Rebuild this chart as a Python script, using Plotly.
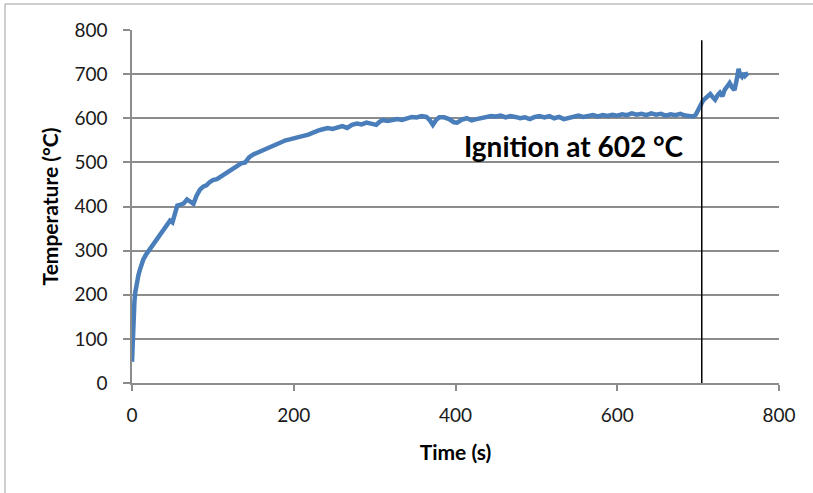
import plotly.graph_objects as go

time_s = [0, 1, 2, 3, 4, 5, 6, 8, 10, 12, 14, 17, 20, 24, 28, 32, 36, 40, 44, 47, 50, 53, 56, 60,
          64, 68, 72, 76, 80, 84, 88, 92, 96, 100, 105, 110, 115, 120, 125, 130, 135, 140, 145,
          150, 155, 160, 165, 170, 175, 180, 185, 190, 195, 200, 206, 212, 218, 224, 230, 236,
          242, 248, 254, 260, 266, 272, 278, 284, 290, 296, 302, 306, 310, 316, 322, 328, 334,
          340, 346, 352, 358, 364, 368, 372, 376, 380, 386, 392, 398, 402, 408, 414, 420, 426,
          432, 438, 444, 450, 456, 462, 468, 474, 480, 486, 492, 498, 504, 510, 516, 522, 528,
          534, 540, 546, 552, 558, 564, 570, 576, 582, 588, 594, 600, 606, 612, 618, 624, 630,
          636, 642, 648, 654, 660, 666, 672, 678, 684, 690, 694, 697, 700, 703, 706, 709, 712,
          715, 718, 721, 724, 727, 730, 733, 736, 739, 742, 745, 748, 750, 752, 754, 756, 758,
          760, 762]
temperature_c = [48, 110, 160, 185, 205, 220, 232, 245, 258, 270, 280, 290, 298, 308, 318, 328,
                 342, 350, 362, 368, 364, 385, 402, 404, 407, 416, 410, 406, 425, 438, 445, 448,
                 455, 460, 462, 468, 472, 478, 484, 492, 498, 500, 512, 518, 522, 527, 532, 536,
                 538, 544, 546, 550, 552, 555, 558, 560, 563, 568, 572, 575, 578, 576, 580, 582,
                 578, 585, 588, 586, 590, 588, 585, 592, 596, 594, 597, 598, 596, 600, 603, 602,
                 605, 603, 596, 585, 596, 602, 602, 598, 591, 590, 597, 600, 595, 598, 600, 601,
                 605, 604, 606, 602, 605, 603, 600, 602, 598, 603, 605, 602, 605, 600, 603, 598,
                 601, 604, 606, 603, 605, 607, 604, 607, 605, 608, 606, 609, 607, 611, 608, 610,
                 607, 611, 608, 610, 606, 609, 607, 610, 606, 605, 604, 608, 620, 632, 640, 645,
                 650, 655, 648, 642, 652, 658, 650, 665, 672, 680, 670, 664, 690, 712, 698, 694,
                 702, 696, 700, 702]

x_ticks = [0, 200, 400, 600, 800]
y_ticks = [0, 100, 200, 300, 400, 500, 600, 700, 800]
ignition_time = 704.5
ignition_line_range = [-16, 777]
annotation_text = "Ignition at 602 °C"
annotation_pos = (547, 537)

FONT = "Lato"
GRID = "#8c8c8c"

fig = go.Figure()
fig.add_trace(go.Scatter(
    x=time_s, y=temperature_c, mode="lines",
    line=dict(color="#4a7ebb", width=4.5),
    showlegend=False, hoverinfo="skip",
))
fig.add_trace(go.Scatter(
    x=[ignition_time, ignition_time], y=ignition_line_range, mode="lines",
    line=dict(color="black", width=1.5), showlegend=False, hoverinfo="skip",
    cliponaxis=False,
))

fig.add_annotation(
    x=annotation_pos[0], y=annotation_pos[1], text="<b>" + annotation_text + "</b>",
    showarrow=False, font=dict(family=FONT, size=28, color="black"),
    xanchor="center", yanchor="middle",
)

# outer frame (left and top edges)
fig.add_shape(type="line", xref="paper", yref="paper", x0=-0.1963, x1=-0.1963,
              y0=1.0737, y1=-0.32, line=dict(color="#bdbdbd", width=1.5))
fig.add_shape(type="line", xref="paper", yref="paper", x0=-0.1963, x1=1.06,
              y0=1.0737, y1=1.0737, line=dict(color="#bdbdbd", width=1.5))

fig.update_xaxes(
    range=[0, 800], tickvals=x_ticks, ticktext=[str(v) for v in x_ticks],
    showgrid=False, zeroline=False,
    showline=True, linecolor=GRID, linewidth=1.5,
    ticks="outside", ticklen=6, tickcolor=GRID, tickwidth=1.5,
    tickfont=dict(family=FONT, size=19, color="#1a1a1a"),
    ticklabelstandoff=8,
    title=dict(text="<b>Time (s)</b>", font=dict(family=FONT, size=21, color="black"), standoff=21),
)
fig.update_yaxes(
    range=[0, 800], tickvals=y_ticks, ticktext=[str(v) for v in y_ticks],
    showgrid=True, gridcolor=GRID, gridwidth=1.5, zeroline=False,
    showline=True, linecolor=GRID, linewidth=1.5,
    ticks="outside", ticklen=7, tickcolor=GRID, tickwidth=1.5,
    tickfont=dict(family=FONT, size=19, color="#1a1a1a"),
    ticklabelstandoff=12,
    title=dict(text="<b>Temperature (°C)</b>", font=dict(family=FONT, size=21, color="black"), standoff=10),
)

fig.update_layout(
    width=813, height=493,
    margin=dict(l=132, r=34, t=30, b=110),
    plot_bgcolor="white", paper_bgcolor="white",
    font=dict(family=FONT),
)

fig.write_html("out.html")
